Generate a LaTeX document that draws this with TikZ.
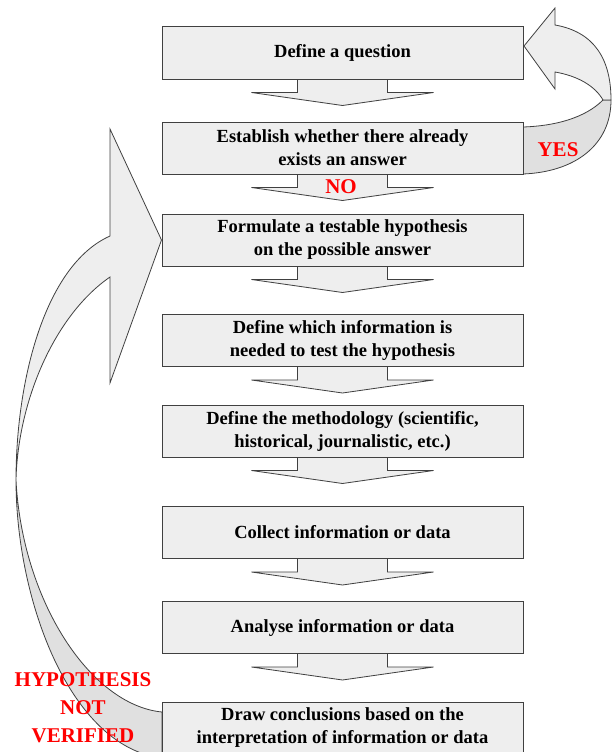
\documentclass[tikz,border=0pt]{standalone}
\usepackage{fontspec}
\setmainfont{Liberation Serif}
\usetikzlibrary{calc,backgrounds}
\definecolor{boxfill}{RGB}{238,238,238}
\definecolor{bandfill}{RGB}{224,224,224}
\definecolor{edgecol}{RGB}{64,64,64}
\begin{document}
\begin{tikzpicture}[x=1pt,y=-1pt,
  stepbox/.style={draw=edgecol, fill=boxfill, line width=1pt, minimum width=361pt,
    minimum height=52pt, inner sep=0pt, align=center,
    font=\fontsize{18.5}{23}\selectfont\bfseries},
  blockarrow/.style={draw=edgecol, fill=boxfill, line width=0.8pt, line join=miter},
  bandface/.style={draw=edgecol, fill=boxfill, line width=0.8pt, line join=miter},
  bandback/.style={draw=edgecol, fill=bandfill, line width=0.8pt, line join=miter},
  redlabel/.style={text=red, inner sep=0pt, align=center,
    font=\fontsize{21}{28}\selectfont\bfseries}]
\useasboundingbox (0,0) rectangle (612,752);
\clip (0,0) rectangle (612,752);

\node[stepbox] (b1) at (342.5,53) {Define a question};
\node[stepbox] (b2) at (342.5,148) {Establish whether there already\\exists an answer};
\node[stepbox] (b3) at (342.5,240) {Formulate a testable hypothesis\\on the possible answer};
\node[stepbox] (b4) at (342.5,340.5) {Define which information is\\needed to test the hypothesis};
\node[stepbox] (b5) at (342.5,431) {Define the methodology (scientific,\\historical, journalistic, etc.)};
\node[stepbox] (b6) at (342.5,532.5) {Collect information or data};
\node[stepbox] (b7) at (342.5,627.5) {Analyse information or data};
\node[stepbox] (b8) at (342.5,728) {Draw conclusions based on the\\interpretation of information or data};

\begin{scope}[on background layer]
  \foreach \a in {1,...,7} {
    \coordinate (s\a) at (b\a.south);
    \draw[blockarrow] ($(s\a)+(-45,0)$) -- ($(s\a)+(-45,13)$) -- ($(s\a)+(-91,13)$)
      -- ($(s\a)+(0,26)$) -- ($(s\a)+(91,13)$) -- ($(s\a)+(45,13)$) -- ($(s\a)+(45,0)$);
  }
  % right "YES" loop arrow
  \coordinate (ytip) at (524,46);
  \draw[bandback] (523,127) .. controls (555,126) and (585,118) .. (603,100)
    -- (611,100) .. controls (611,145) and (575,172) .. (523,174) -- cycle;
  \draw[bandface] (ytip) -- (555,8) -- (555,25) .. controls (595,32) and (611,60) .. (611,100)
    -- (603,100) .. controls (595,86) and (578,76) .. (555,72) -- (555,89) -- cycle;
  % left "HYPOTHESIS NOT VERIFIED" loop arrow
  \draw[bandback] (16,480) .. controls (22,600) and (90,705) .. (162,712)
    -- (162,758) .. controls (70,747) and (16,600) .. (16,480) -- cycle;
  \draw[bandface] (b3.west) -- (110,383) -- (110,277) .. controls (55,315) and (18,400) .. (16,480)
    .. controls (16,380) and (45,265) .. (110,236) -- (110,129) -- cycle;
\end{scope}

\node[redlabel] (yes) at (558,150) {YES};
\node[redlabel] (no) at (341,187) {NO};
\node[redlabel] (hnv) at (83,708) {HYPOTHESIS\\NOT\\VERIFIED};
\end{tikzpicture}
\end{document}
